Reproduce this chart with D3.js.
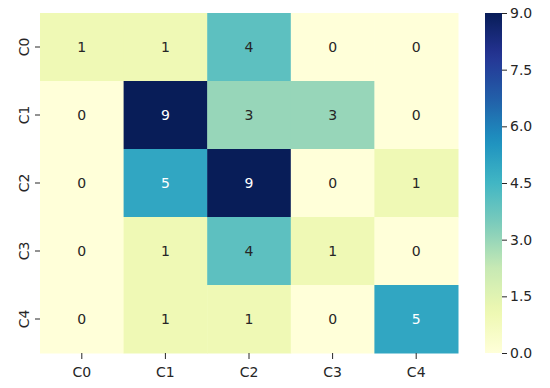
<!DOCTYPE html>
<html>
<head>
<meta charset="utf-8">
<script src="https://cdn.jsdelivr.net/npm/d3@7"></script>
<style>
  body { margin: 0; background: #fff; }
  svg text { font-family: "DejaVu Sans", sans-serif; }
</style>
</head>
<body>
<div id="chart"></div>
<script>
// ------------- Data ----------------- //
const rowLabels = ['C0', 'C1', 'C2', 'C3', 'C4'];
const colLabels = ['C0', 'C1', 'C2', 'C3', 'C4'];
const values = [
  [1, 1, 4, 0, 0],
  [0, 9, 3, 3, 0],
  [0, 5, 9, 0, 1],
  [0, 1, 4, 1, 0],
  [0, 1, 1, 0, 5]
];
const cbarTicks = [0, 1.5, 3, 4.5, 6, 7.5, 9];

const W = 550, H = 388;
const margin = { top: 13, left: 40 };
const mapW = 418, mapH = 340;
const cbar = { x: 485, w: 17 };

const svg = d3.select('#chart')
  .append('svg')
  .attr('width', W)
  .attr('height', H);

// matplotlib YlGnBu = linear over the 9 brewer colours
const brewer = d3.schemeYlGnBu[9];
const color = d3.scaleLinear()
  .domain(d3.range(9).map(i => i * 9 / 8))
  .range(brewer)
  .interpolate(d3.interpolateRgb)
  .clamp(true);

const x = d3.scaleBand().domain(colLabels).range([margin.left, margin.left + mapW]);
const y = d3.scaleBand().domain(rowLabels).range([margin.top, margin.top + mapH]);

function luminance(c) {
  const rgb = d3.rgb(c);
  const f = v => {
    v = v / 255;
    return v <= 0.03928 ? v / 12.92 : Math.pow((v + 0.055) / 1.055, 2.4);
  };
  return 0.2126 * f(rgb.r) + 0.7152 * f(rgb.g) + 0.0722 * f(rgb.b);
}

const cells = [];
values.forEach((row, i) => {
  row.forEach((v, j) => cells.push({ r: rowLabels[i], c: colLabels[j], v: v }));
});

svg.append('g')
  .selectAll('rect')
  .data(cells)
  .join('rect')
  .attr('x', d => x(d.c))
  .attr('y', d => y(d.r))
  .attr('width', x.bandwidth() + 0.5)
  .attr('height', y.bandwidth() + 0.5)
  .attr('fill', d => color(d.v));

svg.append('g')
  .selectAll('text')
  .data(cells)
  .join('text')
  .attr('x', d => x(d.c) + x.bandwidth() / 2)
  .attr('y', d => y(d.r) + y.bandwidth() / 2)
  .attr('dy', '0.36em')
  .attr('text-anchor', 'middle')
  .attr('font-size', 14)
  .attr('fill', d => luminance(color(d.v)) > 0.408 ? '#262626' : '#ffffff')
  .text(d => d.v);

// axes
const xAxis = svg.append('g')
  .attr('transform', 'translate(0,' + (margin.top + mapH) + ')')
  .call(d3.axisBottom(x).tickSize(6).tickPadding(8));
xAxis.select('.domain').remove();
xAxis.selectAll('.tick line').attr('stroke', '#262626');
xAxis.selectAll('.tick text').attr('font-size', 14).attr('fill', '#262626')
  .style('font-family', '"DejaVu Sans", sans-serif');

const yAxis = svg.append('g')
  .attr('transform', 'translate(' + margin.left + ',0)')
  .call(d3.axisLeft(y).tickSize(5).tickPadding(4));
yAxis.select('.domain').remove();
yAxis.selectAll('.tick line').attr('stroke', '#262626');
yAxis.selectAll('.tick text')
  .attr('font-size', 14)
  .attr('fill', '#262626')
  .style('font-family', '"DejaVu Sans", sans-serif')
  .attr('text-anchor', 'middle')
  .attr('x', -16)
  .attr('dy', 0)
  .attr('transform', 'rotate(-90,-16,0) translate(0,5)');

// colorbar
const cy = d3.scaleLinear().domain([0, 9]).range([margin.top + mapH, margin.top]);
const grad = svg.append('defs').append('linearGradient')
  .attr('id', 'cbar-grad')
  .attr('x1', 0).attr('y1', 1).attr('x2', 0).attr('y2', 0);
grad.selectAll('stop')
  .data(d3.range(0, 9.01, 0.25))
  .join('stop')
  .attr('offset', d => d / 9)
  .attr('stop-color', d => color(d));

svg.append('rect')
  .attr('x', cbar.x)
  .attr('y', margin.top)
  .attr('width', cbar.w)
  .attr('height', mapH)
  .attr('fill', 'url(#cbar-grad)');

const cAxis = svg.append('g')
  .attr('transform', 'translate(' + (cbar.x + cbar.w) + ',0)')
  .call(d3.axisRight(cy).tickValues(cbarTicks).tickFormat(d3.format('.1f')).tickSize(5).tickPadding(3));
cAxis.select('.domain').remove();
cAxis.selectAll('.tick line').attr('stroke', '#262626');
cAxis.selectAll('.tick text').attr('font-size', 14).attr('fill', '#262626')
  .style('font-family', '"DejaVu Sans", sans-serif');
</script>
</body>
</html>
